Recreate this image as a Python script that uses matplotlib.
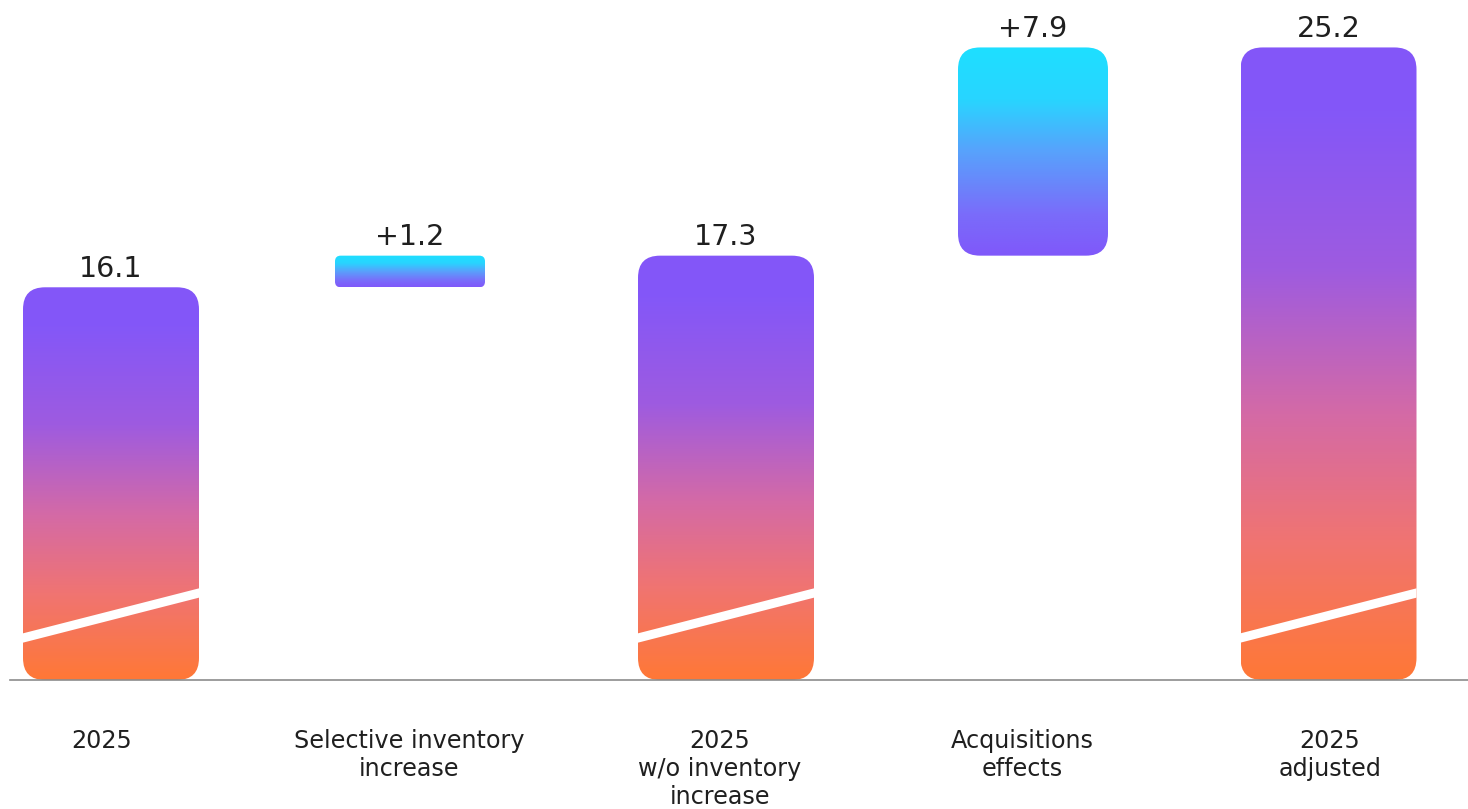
import numpy as np
import matplotlib.pyplot as plt
from matplotlib.patches import FancyBboxPatch
from matplotlib.colors import LinearSegmentedColormap

# data
categories = ["2025", "Selective inventory\nincrease", "2025\nw/o inventory\nincrease",
              "Acquisitions\neffects", "2025\nadjusted"]
values = [16.1, 1.2, 17.3, 7.9, 25.2]
kinds = ["total", "delta", "total", "delta", "total"]
value_labels = ["16.1", "+1.2", "17.3", "+7.9", "25.2"]

# layout (pixel centres of bars / category labels)
bar_px = [111, 410, 726, 1033, 1328.5]
label_px = [102, 409, 720, 1022, 1330]

# broken axis: bars start here, not at 0
floor = 1.2
ytop = 27.0

W, H, DPI = 14.68, 8.09, 100
fig = plt.figure(figsize=(W, H), dpi=DPI)
ax = fig.add_axes([0, 129 / 809, 1, 680 / 809])
xlim = (0, W * DPI)  # x in pixels

ppy = 680 / (ytop - floor)  # pixels per y unit

total_cmap = LinearSegmentedColormap.from_list("tot", [
    (0.0, "#8356f9"), (0.1, "#8457f8"), (0.35, "#9e5be0"),
    (0.58, "#d46aa6"), (0.78, "#f07472"), (1.0, "#ff7836")])
delta_cmap = LinearSegmentedColormap.from_list("dlt", [
    (0.0, "#1edfff"), (0.25, "#28d5ff"), (0.5, "#58a2fc"),
    (0.8, "#7a6cfa"), (1.0, "#8058fa")])
grad = np.linspace(0, 1, 256).reshape(-1, 1)

running = 0.0
for i, (cat, v, kind, lab) in enumerate(zip(categories, values, kinds, value_labels)):
    if kind == "total":
        lo, hi = floor, v
        running = v
        w = 176
        cmap = total_cmap
    else:
        lo, hi = running, running + v
        running += v
        w = 150
        cmap = delta_cmap
    r = min(22, (hi - lo) * ppy * 0.18)
    xc = bar_px[i]
    x0 = xc - w / 2

    patch = FancyBboxPatch((x0, lo), w, hi - lo,
                           boxstyle=f"round,pad=0,rounding_size={r}",
                           mutation_aspect=1 / ppy, fc="none", ec="none")
    ax.add_patch(patch)
    im = ax.imshow(grad, cmap=cmap, extent=(x0, x0 + w, lo, hi), aspect="auto",
                   origin="upper", interpolation="bilinear", zorder=2)
    im.set_clip_path(patch)

    if kind == "total":
        # white break stripe
        slope = ((87 - 42) / ppy) / w
        xs = np.array([x0 - 15, x0 + w + 15])
        ys = floor + 42 / ppy + slope * (xs - x0)
        ln, = ax.plot(xs, ys, color="white", lw=6.5, solid_capstyle="butt", zorder=3)
        ln.set_clip_path(patch)

    ax.annotate(lab, (xc, hi), xytext=(0, 3), textcoords="offset points",
                ha="center", va="bottom", fontsize=20.5, color="#1f1f1f")
    ax.annotate(cat, (label_px[i], floor), xytext=(0, -35.5), textcoords="offset points",
                ha="center", va="top", fontsize=17.2, linespacing=1.2,
                color="#1f1f1f", annotation_clip=False)

ax.plot([10, xlim[1]], [floor, floor], color="#8c8c8c",
        lw=1.2, clip_on=False, zorder=4)

ax.set_xlim(*xlim)
ax.set_ylim(floor, ytop)
ax.axis("off")

fig.savefig("out.png", dpi=DPI)
